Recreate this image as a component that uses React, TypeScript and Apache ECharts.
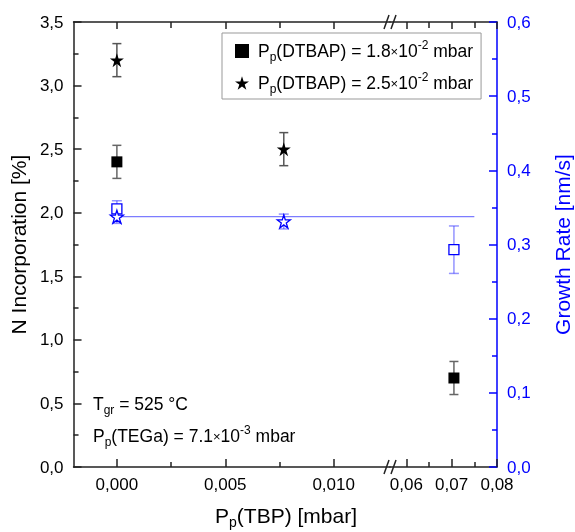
import React, { useEffect, useRef } from "react";
import * as echarts from "echarts";

// ---------- data ----------
const xSq = [0, 0.0705];               // Pp(TBP) [mbar], DTBAP = 1.8e-2
const nIncSq = [2.4, 0.7];             // N incorporation [%]
const nIncSqErr = [0.13, 0.13];
const growthSq = [0.348, 0.293];       // growth rate [nm/s]
const growthSqErr = [0.011, 0.032];

const xStar = [0, 0.0077];             // Pp(TBP) [mbar], DTBAP = 2.5e-2
const nIncStar = [3.2, 2.5];
const nIncStarErr = [0.13, 0.13];
const growthStar = [0.3375, 0.331];
const growthStarErr = [0.009, 0.01];

const fitX = [0, 0.075];               // mean growth-rate line
const fitY = 0.3375;

const xTicksLeft = [0, 0.005, 0.01];
const xMinorLeft = [0.0025, 0.0075];
const xTicksRight = [0.06, 0.07, 0.08];
const xMinorRight = [0.065, 0.075];

const legendSq = "P{sub|p}(DTBAP) = 1.8{x|×}10{sup|-2} mbar";
const legendStar = "P{sub|p}(DTBAP) = 2.5{x|×}10{sup|-2} mbar";
const note1 = "T{sub|gr} = 525 °C";
const note2 = "P{sub|p}(TEGa) = 7.1{x|×}10{sup|-3} mbar";
const xName = "P{sub|p}(TBP) [mbar]";
const yNameLeft = "N Incorporation [%]";
const yNameRight = "Growth Rate [nm/s]";

// ---------- layout ----------
const X0MIN = -0.002, X0MAX = 0.0126;
const X1MIN = 0.0564, X1MAX = 0.08;
const BREAK = 0.03;
const FONT = "Liberation Sans, Arial, sans-serif";
const BLUE = "#0000ff";
const BLUE_LIGHT = "rgba(60,60,255,0.55)";
const STAR = "path://M50,0 L61.2,34.5 L97.6,34.5 L68.2,55.9 L79.4,90.5 L50,69.1 L20.6,90.5 L31.8,55.9 L2.4,34.5 L38.8,34.5 Z";
const SQUARE = "path://M0,0 L100,0 L100,100 L0,100 Z";

const RICH: any = {
  sub: { fontSize: 12, verticalAlign: "bottom", lineHeight: 12, fontFamily: FONT },
  sup: { fontSize: 12, verticalAlign: "top", lineHeight: 12, fontFamily: FONT },
  x: { fontSize: 13, fontFamily: FONT },
};

const comma = (d: number) => (v: number) => v.toFixed(d).replace(".", ",");

function errSeries(xs: number[], ys: number[], es: number[], left: boolean, xi: number, yi: number, color: string, cap: number) {
  const data = xs
    .map((x, i) => [x, ys[i] - es[i], ys[i] + es[i]])
    .filter((d) => (left ? d[0] < BREAK : d[0] >= BREAK));
  return {
    type: "custom",
    xAxisIndex: xi,
    yAxisIndex: yi,
    z: 1,
    silent: true,
    data,
    renderItem: (_p: any, api: any) => {
      const x = api.value(0);
      const top = api.coord([x, api.value(2)]);
      const bot = api.coord([x, api.value(1)]);
      const st = { stroke: color, lineWidth: 1.5 };
      return {
        type: "group",
        children: [
          { type: "line", shape: { x1: top[0], y1: top[1], x2: bot[0], y2: bot[1] }, style: st },
          { type: "line", shape: { x1: top[0] - cap, y1: top[1], x2: top[0] + cap, y2: top[1] }, style: st },
          { type: "line", shape: { x1: bot[0] - cap, y1: bot[1], x2: bot[0] + cap, y2: bot[1] }, style: st },
        ],
      };
    },
  };
}

function pointSeries(name: string, xs: number[], ys: number[], left: boolean, xi: number, yi: number, symbol: string, size: number, fill: string, border: string) {
  const data = xs.map((x, i) => [x, ys[i]]).filter((d) => (left ? d[0] < BREAK : d[0] >= BREAK));
  return {
    type: "scatter",
    name,
    xAxisIndex: xi,
    yAxisIndex: yi,
    z: 3,
    symbol,
    symbolSize: size,
    data,
    itemStyle: { color: fill, borderColor: border, borderWidth: fill === "#000" ? 0 : 1.3, opacity: 1 },
  };
}

function xAxisDef(grid: number, min: number, max: number, pos: string, values: number[], len: number, line: boolean, labels: boolean, digits: number) {
  return {
    type: "value",
    gridIndex: grid,
    min,
    max,
    position: pos,
    axisLine: { show: line, onZero: false, lineStyle: { color: "#222", width: 1.5 } },
    axisTick: { show: true, inside: true, length: len, customValues: values, lineStyle: { color: "#222", width: 1.5 } },
    axisLabel: labels
      ? { show: true, customValues: values, formatter: comma(digits), fontSize: 17, fontFamily: FONT, color: "#000", margin: 9 }
      : { show: false },
    splitLine: { show: false },
  };
}

export default function App() {
  const ref = useRef<HTMLDivElement>(null);
  useEffect(() => {
    if (!ref.current) return;
    const chart = echarts.init(ref.current, null, { renderer: "svg" });

    const series: any[] = [];
    [true, false].forEach((left) => {
      const xi = left ? 0 : 4;
      const yL = left ? 0 : 2;
      const yR = left ? 1 : 3;
      // N incorporation (black)
      series.push(errSeries(xSq, nIncSq, nIncSqErr, left, xi, yL, "#666", 4.5));
      series.push(pointSeries("sq", xSq, nIncSq, left, xi, yL, "rect", 11, "#000", "#000"));
      series.push(errSeries(xStar, nIncStar, nIncStarErr, left, xi, yL, "#555", 4.5));
      series.push(pointSeries("star", xStar, nIncStar, left, xi, yL, STAR, 14, "#000", "#000"));
      // growth rate (blue)
      series.push(errSeries(xSq, growthSq, growthSqErr, left, xi, yR, BLUE_LIGHT, 5));
      series.push(pointSeries("gsq", xSq, growthSq, left, xi, yR, "rect", 10, "#fff", BLUE));
      series.push(errSeries(xStar, growthStar, growthStarErr, left, xi, yR, BLUE_LIGHT, 5));
      series.push(pointSeries("gstar", xStar, growthStar, left, xi, yR, STAR, 13, "#fff", BLUE));
      // mean line
      series.push({
        type: "line",
        xAxisIndex: xi,
        yAxisIndex: yR,
        z: 0,
        silent: true,
        symbol: "none",
        lineStyle: { color: "rgba(80,80,255,0.75)", width: 1.2 },
        data: left
          ? [[Math.max(fitX[0], X0MIN), fitY], [Math.min(fitX[1], X0MAX), fitY]]
          : [[Math.max(fitX[0], X1MIN), fitY], [Math.min(fitX[1], X1MAX), fitY]],
      });
    });

    const slash = (x: number, y: number) => ({
      type: "line",
      shape: { x1: x - 2.5, y1: y + 7, x2: x + 2.5, y2: y - 7 },
      style: { stroke: "#222", lineWidth: 1.5 },
    });
    const breakMark = (y: number) => [
      { type: "rect", shape: { x: 387.5, y: y - 2, width: 5, height: 4 }, style: { fill: "#fff" } },
      slash(386.5, y),
      slash(393.5, y),
    ];

    chart.setOption({
      animation: false,
      grid: [
        { left: 73, top: 22, width: 317, height: 445 },
        { left: 390, top: 22, width: 107, height: 445 },
      ],
      xAxis: [
        xAxisDef(0, X0MIN, X0MAX, "bottom", xTicksLeft, 8, true, true, 3),
        xAxisDef(0, X0MIN, X0MAX, "bottom", xMinorLeft, 5, false, false, 3),
        xAxisDef(0, X0MIN, X0MAX, "top", xTicksLeft, 7, true, false, 3),
        xAxisDef(0, X0MIN, X0MAX, "top", xMinorLeft, 6, false, false, 3),
        xAxisDef(1, X1MIN, X1MAX, "bottom", xTicksRight, 8, true, true, 2),
        xAxisDef(1, X1MIN, X1MAX, "bottom", xMinorRight, 5, false, false, 2),
        xAxisDef(1, X1MIN, X1MAX, "top", xTicksRight, 7, true, false, 2),
        xAxisDef(1, X1MIN, X1MAX, "top", xMinorRight, 6, false, false, 2),
      ],
      yAxis: [
        {
          type: "value",
          gridIndex: 0,
          position: "left",
          min: 0,
          max: 3.5,
          interval: 0.5,
          name: yNameLeft,
          nameLocation: "middle",
          nameRotate: 90,
          nameGap: 32,
          nameTextStyle: { fontSize: 21, fontFamily: FONT, color: "#000" },
          axisLine: { show: true, onZero: false, lineStyle: { color: "#222", width: 1.5 } },
          axisTick: { show: true, inside: true, length: 8, lineStyle: { color: "#222", width: 1.5 } },
          minorTick: { show: true, splitNumber: 2, length: 5, lineStyle: { color: "#222", width: 1.5 } },
          axisLabel: { formatter: comma(1), fontSize: 17, fontFamily: FONT, color: "#000", margin: 10 },
          splitLine: { show: false },
        },
        { type: "value", gridIndex: 0, position: "right", min: 0, max: 0.6, show: false, splitLine: { show: false } },
        { type: "value", gridIndex: 1, position: "left", min: 0, max: 3.5, show: false, splitLine: { show: false } },
        {
          type: "value",
          gridIndex: 1,
          position: "right",
          min: 0,
          max: 0.6,
          interval: 0.1,
          name: yNameRight,
          nameLocation: "middle",
          nameRotate: 90,
          nameGap: 55,
          nameTextStyle: { fontSize: 21, fontFamily: FONT, color: BLUE },
          axisLine: { show: true, onZero: false, lineStyle: { color: BLUE, width: 1.5 } },
          axisTick: { show: true, inside: true, length: 8, lineStyle: { color: BLUE, width: 1.5 } },
          minorTick: { show: true, splitNumber: 2, length: 5, lineStyle: { color: BLUE, width: 1.5 } },
          axisLabel: { formatter: comma(1), fontSize: 17, fontFamily: FONT, color: BLUE, margin: 10 },
          splitLine: { show: false },
        },
      ],
      legend: {
        orient: "vertical",
        left: 222,
        top: 33,
        padding: [6, 8, 4, 13],
        itemGap: 8,
        itemWidth: 14,
        itemHeight: 14,
        backgroundColor: "#fff",
        borderColor: "#999",
        borderWidth: 1,
        borderRadius: 0,
        selectedMode: false,
        data: [
          { name: "sq", icon: SQUARE, itemStyle: { color: "#000" } },
          { name: "star", icon: STAR, itemStyle: { color: "#000" } },
        ],
        formatter: (n: string) => (n === "sq" ? legendSq : legendStar),
        textStyle: { fontSize: 17.5, fontFamily: FONT, color: "#000", lineHeight: 24, padding: [0, 0, 0, 4], rich: RICH },
      },
      graphic: [
        {
          type: "text",
          left: 93,
          top: 392,
          style: { text: note1, fontSize: 17.5, fontFamily: FONT, fill: "#000", lineHeight: 24, rich: RICH },
        },
        {
          type: "text",
          left: 93,
          top: 424,
          style: { text: note2, fontSize: 17.5, fontFamily: FONT, fill: "#000", lineHeight: 24, rich: RICH },
        },
        {
          type: "text",
          x: 286,
          y: 515,
          style: { text: xName, fontSize: 21, fontFamily: FONT, fill: "#000", lineHeight: 28, align: "center", verticalAlign: "middle", rich: { ...RICH, sub: { ...RICH.sub, fontSize: 14, lineHeight: 14 } } },
        },
        ...breakMark(22),
        ...breakMark(467),
      ],
      series,
    });
    return () => chart.dispose();
  }, []);
  return <div ref={ref} style={{ position: "fixed", left: 0, top: 0, width: 575, height: 532 }} />;
}
